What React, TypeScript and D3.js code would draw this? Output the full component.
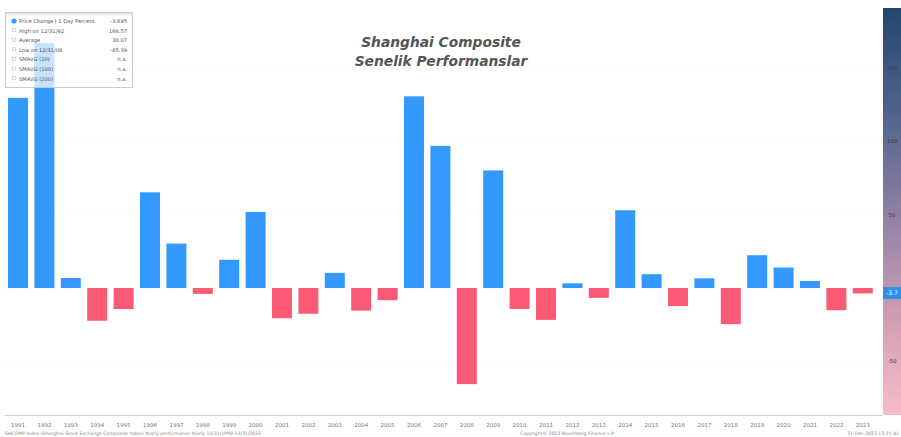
import React from "react";
import * as d3 from "d3";

// Yearly performance of the Shanghai Composite (percent)
const years: string[] = [
  "1991", "1992", "1993", "1994", "1995", "1996", "1997", "1998", "1999", "2000",
  "2001", "2002", "2003", "2004", "2005", "2006", "2007", "2008", "2009", "2010",
  "2011", "2012", "2013", "2014", "2015", "2016", "2017", "2018", "2019", "2020",
  "2021", "2022", "2023",
];
const returns: number[] = [
  129.4, 166.6, 6.8, -22.3, -14.3, 65.1, 30.2, -4.0, 19.2, 51.7,
  -20.6, -17.5, 10.3, -15.4, -8.3, 130.4, 96.7, -65.4, 80.0, -14.3,
  -21.7, 3.2, -6.7, 52.9, 9.4, -12.3, 6.6, -24.6, 22.3, 13.9,
  4.8, -15.1, -3.7,
];
const yTicks: number[] = [150, 100, 50, -50];
const lastValueLabel = "-3.7";

const legendRows: [string, string][] = [
  ["Price Change | 1 Day Percent", "-3.695"],
  ["High on 12/31/92", "166.57"],
  ["Average", "30.07"],
  ["Low on 12/31/08", "-65.39"],
  ["SMAVG (20)", "n.a."],
  ["SMAVG (100)", "n.a."],
  ["SMAVG (200)", "n.a."],
];

const W = 901;
const H = 437;
const plotLeft = 4.8;
const plotRight = 876;
const plotTop = 8;
const plotBottom = 415;
const axisX = 883;

export default function App() {
  const x = d3
    .scaleBand<string>()
    .domain(years)
    .range([plotLeft, plotRight])
    .paddingInner(0.242)
    .paddingOuter(0.121);
  const y = d3.scaleLinear().domain([-86.4, 190.5]).range([plotBottom, plotTop]);
  const y0 = y(0);
  const last = returns[returns.length - 1];

  return (
    <svg
      width={W}
      height={H}
      style={{ position: "absolute", left: 0, top: 0, background: "#fff" }}
      fontFamily="'DejaVu Sans', Verdana, sans-serif"
    >
      <defs>
        <linearGradient id="axisGrad" x1="0" y1="0" x2="0" y2="1">
          <stop offset="0" stopColor="#22466f" />
          <stop offset="0.3" stopColor="#5a6890" />
          <stop offset="0.55" stopColor="#9a86a8" />
          <stop offset="0.8" stopColor="#d9a2b6" />
          <stop offset="1" stopColor="#f7bcca" />
        </linearGradient>
      </defs>
      <rect x={0} y={0} width={W} height={H} fill="#fff" />

      {/* faint dotted gridlines */}
      {[...yTicks, 0].map((t) => (
        <line
          key={"g" + t}
          x1={plotLeft}
          x2={plotRight}
          y1={y(t) + 0.5}
          y2={y(t) + 0.5}
          stroke="#f3ebe3"
          strokeWidth={1}
          strokeDasharray="1,4"
        />
      ))}

      {/* bars */}
      {returns.map((v, i) => {
        const top = v >= 0 ? y(v) : y0;
        const h = Math.abs(y(v) - y0);
        return (
          <rect
            key={years[i]}
            x={x(years[i])}
            y={top}
            width={x.bandwidth()}
            height={Math.max(h, 1.5)}
            fill={v >= 0 ? "#3399ff" : "#fb5a77"}
          />
        );
      })}

      {/* x axis */}
      <line x1={plotLeft} x2={axisX} y1={plotBottom + 0.5} y2={plotBottom + 0.5} stroke="#cfd3d8" />
      {years.map((yr) => (
        <text
          key={"t" + yr}
          x={(x(yr) as number) + x.bandwidth() / 2}
          y={427}
          fontSize={5.5}
          fill="#777"
          textAnchor="middle"
        >
          {yr}
        </text>
      ))}

      {/* right value axis */}
      <rect x={axisX} y={plotTop} width={W - axisX} height={plotBottom - plotTop} fill="url(#axisGrad)" />
      {yTicks.map((t) => (
        <text
          key={"y" + t}
          x={892}
          y={y(t) + 2}
          fontSize={5.5}
          fill="#3a3a4a"
          textAnchor="middle"
        >
          {t}
        </text>
      ))}
      <rect x={axisX} y={y(last) - 6.5} width={W - axisX} height={12} fill="#2f8fe6" />
      <text x={892} y={y(last) + 2} fontSize={6} fill="#fff" textAnchor="middle">
        {lastValueLabel}
      </text>

      {/* legend */}
      <g>
        <rect x={5.5} y={12.5} width={127} height={75} fill="#ffffff" fillOpacity={0.72} stroke="#c8ccd2" />
        <rect x={6} y={13} width={126} height={2.5} fill="#e6e9ee" />
        {legendRows.map(([label, val], i) => (
          <g key={label}>
            {i === 0 ? (
              <circle cx={14} cy={21 + i * 9.6} r={2.6} fill="#3399ff" />
            ) : (
              <rect x={12.5} y={19 + i * 9.6} width={3} height={3} fill="none" stroke="#b8bec6" strokeWidth={0.6} />
            )}
            <text x={19} y={23 + i * 9.6} fontSize={5.2} fill="#555">
              {label}
            </text>
            <text x={127} y={23 + i * 9.6} fontSize={5.2} fill="#555" textAnchor="end">
              {val}
            </text>
          </g>
        ))}
      </g>

      {/* title */}
      <g fontWeight="bold" fontStyle="italic" fill="#555" fontSize={13.8} textAnchor="middle">
        <text x={441} y={47}>Shanghai Composite</text>
        <text x={441} y={66}>Senelik Performanslar</text>
      </g>

      {/* footer */}
      <text x={5} y={435} fontSize={4.6} fill="#888">
        SHCOMP Index (Shanghai Stock Exchange Composite Index) Yearly performance  Yearly 12/31/1990-12/31/2023
      </text>
      <text x={520} y={435} fontSize={4.6} fill="#888">
        Copyright© 2023 Bloomberg Finance L.P.
      </text>
      <text x={899} y={435} fontSize={4.6} fill="#888" textAnchor="end">
        21-Dec-2023 13:21:41
      </text>
    </svg>
  );
}
